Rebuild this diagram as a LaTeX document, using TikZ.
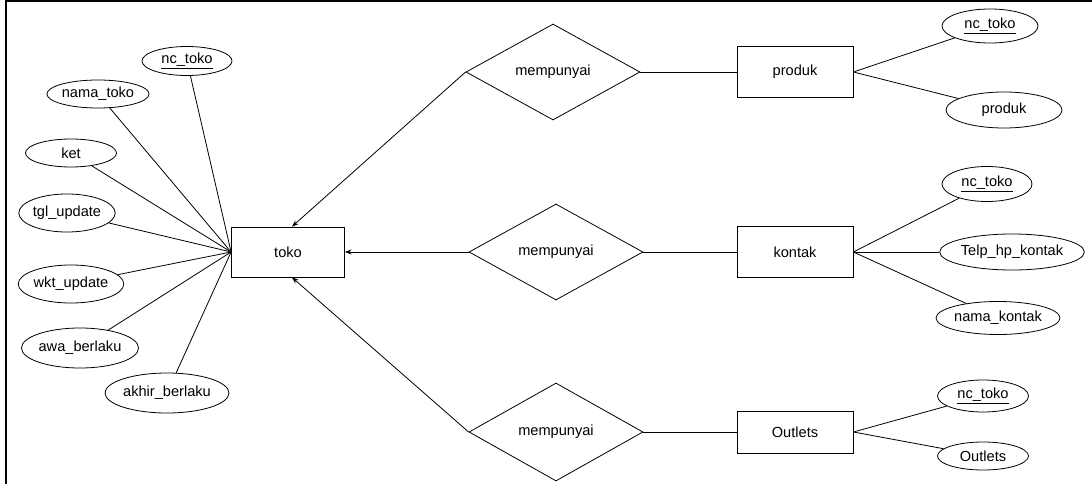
\documentclass[tikz,border=0pt]{standalone}
\usepackage{fontspec}
\setmainfont{Liberation Sans}
\usepackage{tikz}
\usetikzlibrary{shapes.geometric}
\usetikzlibrary{arrows.meta,positioning}

\begin{document}
\begin{tikzpicture}[x=1pt, y=-1pt, line width=0.8pt, >=Stealth, font=\fontsize{14.6}{16}\selectfont]
      \tikzstyle{entity}=[draw, rectangle, minimum height=51pt, minimum width=116pt, inner sep=0pt]
      \tikzstyle{rel}=[draw, diamond, minimum height=96pt, minimum width=174pt, inner sep=0pt]
      \tikzstyle{attr}=[draw, ellipse, inner sep=0pt, minimum height=34pt]

      \useasboundingbox (0,0) rectangle (1092,484);
      \draw[line width=2.5pt] (6,484) -- (6,1.2) -- (1092,1.2);

      \node[entity, minimum width=113pt, minimum height=50pt] (toko) at (288,252) {toko};
      \node[rel] (R1) at (553,72) {mempunyai};
      \node[rel] (R2) at (556,252) {mempunyai};
      \node[rel, minimum height=98pt] (R3) at (556,432) {mempunyai};
      \node[entity] (produk) at (795,72) {produk};
      \node[entity] (kontak) at (795,252) {kontak};
      \node[entity, minimum height=42pt] (outlets) at (795,432) {Outlets};

      % atribut toko
      \node[attr, minimum width=90pt, minimum height=29pt] (Tnc) at (187,61) {\underline{nc\_toko}};
      \node[attr, minimum width=90pt, minimum height=28pt] (Tnama) at (98,94) {nama\_toko};
      \node[attr, minimum width=91pt, minimum height=28pt] (Tket) at (71,153) {ket};
      \node[attr, minimum width=90pt, minimum height=38pt] (Ttgl) at (67,213) {tgl\_update};
      \node[attr, minimum width=91pt, minimum height=38pt] (Twkt) at (71,284) {wkt\_update};
      \node[attr, minimum width=109pt, minimum height=40pt] (Tawal) at (80,348) {awa\_berlaku};
      \node[attr, minimum width=103pt, minimum height=40pt] (Takhir) at (167,393) {akhir\_berlaku};

      % atribut produk, kontak, outlets
      \node[attr, minimum width=96pt] (Pnc) at (990,26) {\underline{nc\_toko}};
      \node[attr, minimum width=116pt, minimum height=36pt] (Pprod) at (1004,110) {produk};
      \node[attr, minimum width=90pt, minimum height=35pt] (Knc) at (987,184) {\underline{nc\_toko}};
      \node[attr, minimum width=140pt, minimum height=36pt] (Ktelp) at (1012,252) {Telp\_hp\_kontak};
      \node[attr, minimum width=112pt, minimum height=33pt] (Knama) at (998,318) {nama\_kontak};
      \node[attr, minimum width=91pt, minimum height=32pt] (Onc) at (983,396) {\underline{nc\_toko}};
      \node[attr, minimum width=91pt, minimum height=28pt] (Oout) at (983,456) {Outlets};

      \draw (Tnc) -- (toko.west);
      \draw (Tnama) -- (toko.west);
      \draw (Tket) -- (toko.west);
      \draw (Ttgl) -- (toko.west);
      \draw (Twkt) -- (toko.west);
      \draw (Tawal) -- (toko.west);
      \draw (Takhir) -- (toko.west);

      \draw[->] (R1.west) -- ([xshift=4pt]toko.north);
      \draw[->] (R2.west) -- (toko.east);
      \draw[->] (R3.west) -- ([xshift=4pt]toko.south);

      \draw (R1.east) -- (produk.west);
      \draw (R2.east) -- (kontak.west);
      \draw (R3.east) -- (outlets.west);

      \draw (produk.east) -- (Pnc);
      \draw (produk.east) -- (Pprod);
      \draw (kontak.east) -- (Knc);
      \draw (kontak.east) -- (Ktelp);
      \draw (kontak.east) -- (Knama);
      \draw (outlets.east) -- (Onc);
      \draw (outlets.east) -- (Oout);
\end{tikzpicture}
\end{document}
